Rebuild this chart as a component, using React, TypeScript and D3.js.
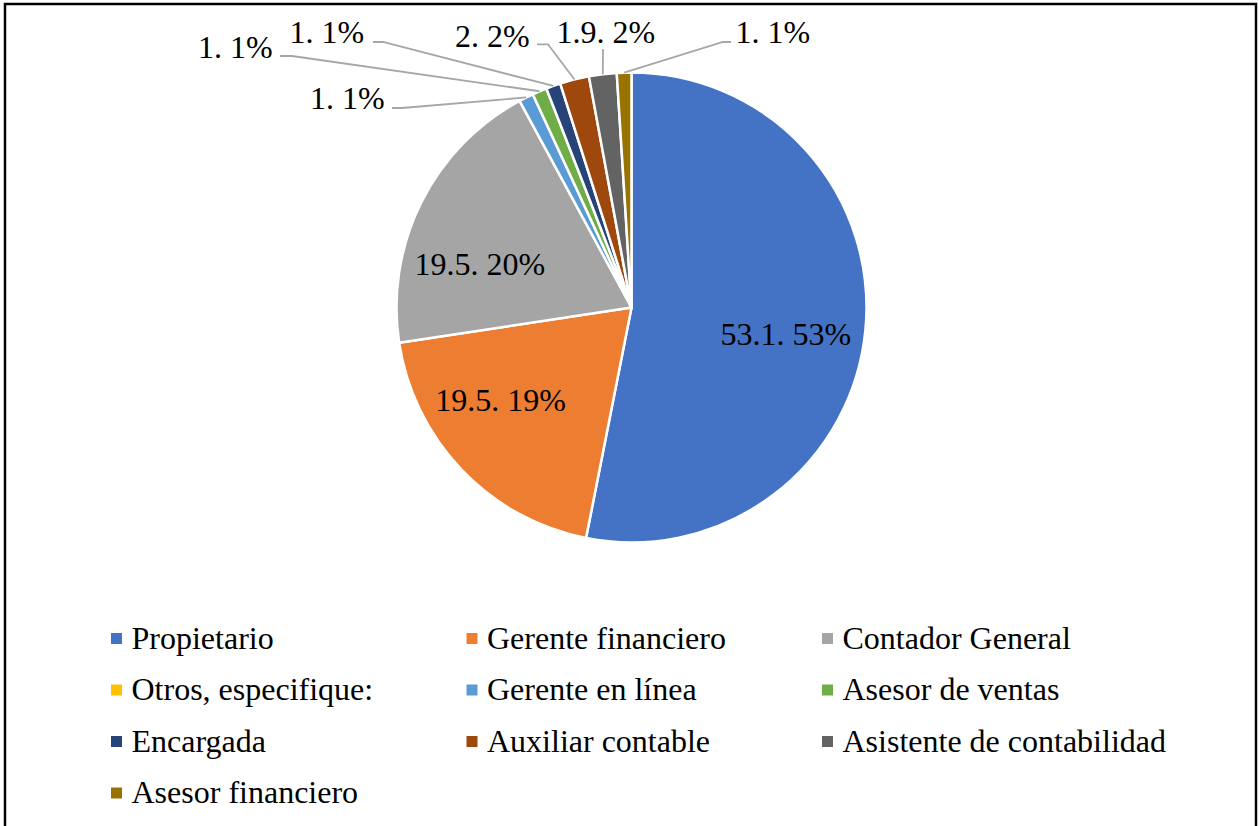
import React from "react";
import * as d3 from "d3";

const categories = [
  "Propietario",
  "Gerente financiero",
  "Contador General",
  "Otros, especifique:",
  "Gerente en línea",
  "Asesor de ventas",
  "Encargada",
  "Auxiliar contable",
  "Asistente de contabilidad",
  "Asesor financiero",
];
const values = [53.1, 19.5, 19.5, 0, 1, 1, 1, 2, 1.9, 1];
const labels = [
  "53.1. 53%",
  "19.5. 19%",
  "19.5. 20%",
  "",
  "1. 1%",
  "1. 1%",
  "1. 1%",
  "2. 2%",
  "1.9. 2%",
  "1. 1%",
];
const colors = [
  "#4472C4",
  "#ED7D31",
  "#A5A5A5",
  "#FFC000",
  "#5B9BD5",
  "#70AD47",
  "#264478",
  "#9E480E",
  "#636363",
  "#997300",
];

// layout (not data)
const W = 1259;
const H = 826;
const CX = 631.5;
const CY = 307.5;
const R = 235;
const FONT = "'Liberation Serif', 'Times New Roman', serif";
const FS = 32;

// inside label offsets from centroid at radius 155
const insideOffsets: Record<number, [number, number]> = {
  0: [0, 11],
  1: [-19, -14.5],
  2: [-13, 26],
};
// outside labels: text origin x, baseline y, leader start x, y, elbow dx
const outside: Record<number, { tx: number; ty: number; lx: number; ly: number; ex: number }> = {
  4: { tx: 310, ty: 109.3, lx: 392, ly: 108, ex: 10 },
  5: { tx: 198, ty: 58.3, lx: 280, ly: 56, ex: 12 },
  6: { tx: 289.5, ty: 43.3, lx: 373, ly: 42, ex: 10 },
  7: { tx: 455, ty: 46.7, lx: 537, ly: 44.3, ex: 11 },
  8: { tx: 556.5, ty: 43.3, lx: 603, ly: 49, ex: 0 },
  9: { tx: 735.5, ty: 43.3, lx: 731, ly: 42, ex: -8 },
};

export default function App() {
  const pie = d3
    .pie<number>()
    .sort(null)
    .value((d) => d)
    .startAngle(0)
    .endAngle(2 * Math.PI);
  const arcs = pie(values);
  const arc = d3.arc<d3.PieArcDatum<number>>().innerRadius(0).outerRadius(R);
  const labelArc = d3.arc<d3.PieArcDatum<number>>().innerRadius(155).outerRadius(155);
  const edgeArc = d3.arc<d3.PieArcDatum<number>>().innerRadius(R).outerRadius(R);

  const legendX = [111, 466.5, 822];
  const legendY = [638.5, 690, 741.5, 793];

  return (
    <svg
      width={W}
      height={H}
      style={{ position: "absolute", left: 0, top: 0, background: "#fff" }}
    >
      <rect x={0} y={0} width={W} height={H} fill="#fff" />
      <g transform={`translate(${CX},${CY})`}>
        {arcs.map((a, i) =>
          a.value > 0 ? (
            <path key={i} d={arc(a) || ""} fill={colors[i]} stroke="#fff" strokeWidth={2.5} strokeLinejoin="round" />
          ) : null
        )}
        {arcs.map((a, i) => {
          if (!insideOffsets[i]) return null;
          const [x, y] = labelArc.centroid(a);
          const [dx, dy] = insideOffsets[i];
          return (
            <text
              key={"il" + i}
              x={x + dx}
              y={y + dy + 11}
              textAnchor="middle"
              fontFamily={FONT}
              fontSize={FS}
              fill="#000"
            >
              {labels[i]}
            </text>
          );
        })}
      </g>
      {arcs.map((a, i) => {
        const o = outside[i];
        if (!o) return null;
        const [ex, ey] = edgeArc.centroid(a);
        const px = CX + ex;
        const py = CY + ey;
        const pts =
          o.ex === 0
            ? `${o.lx},${o.ly} ${px},${py}`
            : `${o.lx},${o.ly} ${o.lx + o.ex},${o.ly} ${px},${py}`;
        return (
          <g key={"ol" + i}>
            <polyline points={pts} fill="none" stroke="#A6A6A6" strokeWidth={1.8} />
            <text x={o.tx} y={o.ty} fontFamily={FONT} fontSize={FS} fill="#000">
              {labels[i]}
            </text>
          </g>
        );
      })}
      {categories.map((c, i) => {
        const col = i % 3;
        const row = Math.floor(i / 3);
        const x = legendX[col];
        const y = legendY[row];
        return (
          <g key={"lg" + i}>
            <rect x={x} y={y - 5.5} width={11} height={11} fill={colors[i]} />
            <text x={x + 20.5} y={y + 10} fontFamily={FONT} fontSize={FS} fill="#000">
              {c}
            </text>
          </g>
        );
      })}
      <rect x={5} y={4} width={1251} height={840} fill="none" stroke="#000" strokeWidth={2.5} />
    </svg>
  );
}
